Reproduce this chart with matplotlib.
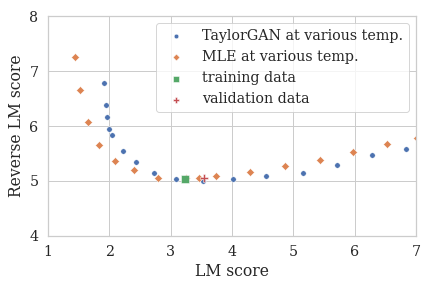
import numpy as np
import matplotlib
matplotlib.use('Agg')
import matplotlib.pyplot as plt
import seaborn as sns

sns.set_theme(style='whitegrid', font='serif', font_scale=1.3)
plt.rcParams['font.family'] = ['DejaVu Serif']

# Data
taylor_lm = [1.92, 1.94, 1.97, 2.00, 2.05, 2.23, 2.44, 2.73, 3.09, 3.53, 4.02, 4.56, 5.15, 5.72, 6.29, 6.84]
taylor_rev = [6.78, 6.39, 6.16, 5.94, 5.83, 5.54, 5.34, 5.14, 5.03, 4.99, 5.03, 5.09, 5.14, 5.29, 5.47, 5.59]
mle_lm = [1.44, 1.53, 1.66, 1.84, 2.10, 2.41, 2.80, 3.25, 3.47, 3.74, 4.30, 4.86, 5.44, 5.97, 6.52, 7.01]
mle_rev = [7.25, 6.65, 6.07, 5.65, 5.36, 5.19, 5.05, 5.05, 5.05, 5.09, 5.16, 5.27, 5.38, 5.52, 5.67, 5.79]
train_lm, train_rev = [3.24], [5.03]
valid_lm, valid_rev = [3.55], [5.05]

pal = sns.color_palette()

fig, ax = plt.subplots(figsize=(6, 4), dpi=72)
ax.scatter(taylor_lm, taylor_rev, s=30, marker='o', color=pal[0], edgecolors='w', linewidths=0.5,
           label='TaylorGAN at various temp.')
ax.scatter(mle_lm, mle_rev, s=32, marker='D', color=pal[1], edgecolors='w', linewidths=0.5,
           label='MLE at various temp.')
ax.scatter(train_lm, train_rev, s=55, marker='s', color=pal[2], edgecolors='w', linewidths=0.5,
           label='training data')
ax.scatter(valid_lm, valid_rev, s=55, marker='P', color=pal[3], edgecolors='w', linewidths=0.5,
           label='validation data')

ax.set_xlim(1, 7)
ax.set_ylim(4, 8)
ax.set_xticks([1, 2, 3, 4, 5, 6, 7])
ax.set_yticks([4, 5, 6, 7, 8])
ax.set_xlabel('LM score')
ax.set_ylabel('Reverse LM score')
ax.legend(loc='upper right', markerscale=0.85)

fig.subplots_adjust(left=0.111, right=0.963, top=0.944, bottom=0.181)
plt.savefig('out.png')
